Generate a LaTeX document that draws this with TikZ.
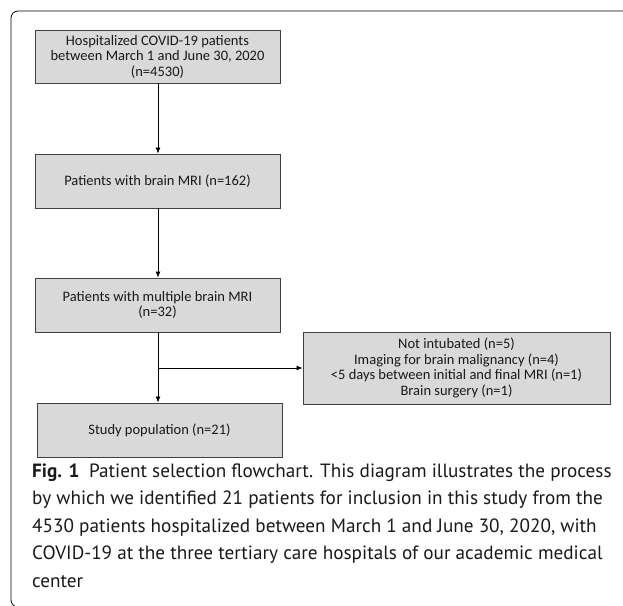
\documentclass[tikz,border=0pt]{standalone}
\usepackage{fontspec}
\setmainfont{Carlito}
\newfontfamily\capfont{PT Sans}
\usetikzlibrary{arrows.meta}

\definecolor{boxfill}{HTML}{D9D9D9}
\definecolor{boxline}{HTML}{404040}

\begin{document}
\begin{tikzpicture}[x=1pt, y=1pt,
		flowbox/.style={draw=boxline, line width=0.9pt, fill=boxfill, inner sep=0pt,
			align=center, font=\fontsize{14.5}{15.5}\selectfont, text=black!90},
		flowarrow/.style={line width=0.7pt, -{Latex[length=6pt, width=5pt]}}]
		%%%%% START %%%%%
		
		\useasboundingbox (0, 0) rectangle (623, -605);
		
		% outer frame
		\draw[line width=0.8pt, rounded corners=7pt] (623, -11) -- (11, -11) -- (11, -607) -- (40, -607);
		
		% flow boxes
		\node[flowbox, minimum width=245, minimum height=53] (hosp) at (157.5, -56.5)
			{Hospitalized COVID-19 patients\\between March 1 and June 30, 2020\\(n=4530)};
		\node[flowbox, minimum width=245, minimum height=54] (mri) at (157.5, -181)
			{Patients with brain MRI (n=162)};
		\node[flowbox, minimum width=245, minimum height=54] (multi) at (157.5, -305)
			{Patients with multiple brain MRI\\(n=32)};
		\node[flowbox, minimum width=307, minimum height=72] (excl) at (456.5, -368)
			{Not intubated (n=5)\\Imaging for brain malignancy (n=4)\\{<}5 days between initial and final MRI (n=1)\\Brain surgery (n=1)};
		\node[flowbox, minimum width=245, minimum height=54] (study) at (159.5, -430)
			{Study population (n=21)};
		
		\coordinate (split) at (158, -368);
		
		% connectors
		\draw[flowarrow] (hosp.south -| split) -- (mri.north -| split);
		\draw[flowarrow] (mri.south -| split) -- (multi.north -| split);
		\draw[line width=0.7pt] (multi.south -| split) -- (split);
		\draw[flowarrow] (split) -- (excl.west);
		\draw[flowarrow] (split) -- (study.north -| split);
		
		% caption
		\node[anchor=base west, align=left, inner sep=0pt, font=\capfont\fontsize{19.2}{27.5}\selectfont,
			text=black!90] (caption) at (32, -587)
			{\textbf{Fig. 1}\hspace{0.5em}Patient selection flowchart. This diagram illustrates the process\\
			by which we identified 21 patients for inclusion in this study from the\\
			4530 patients hospitalized between March 1 and June 30, 2020, with\\
			COVID-19 at the three tertiary care hospitals of our academic medical\\
			center};
		
		%%%%% END %%%%%
	\end{tikzpicture}
\end{document}
